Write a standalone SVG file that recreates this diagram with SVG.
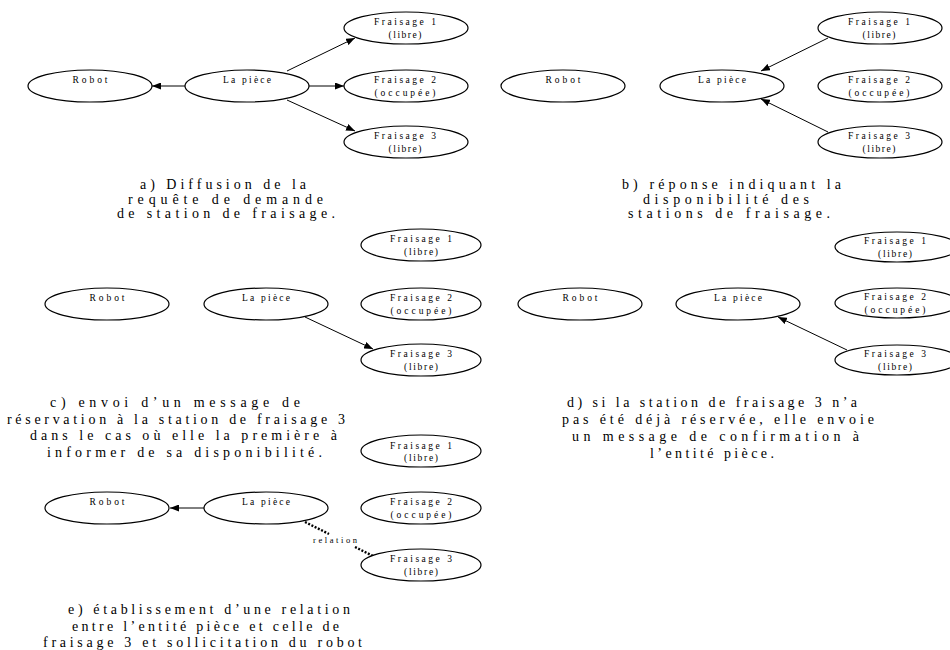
<svg xmlns="http://www.w3.org/2000/svg" width="950" height="650" viewBox="0 0 950 650">
<style>
  .n ellipse { fill: #fff; stroke: #000; stroke-width: 1.2; }
  .n text { font-family: "Liberation Serif", "Times New Roman", serif; font-size: 9.5px; fill: #000; text-anchor: middle; }
  .cap { font-family: "Liberation Serif", "Times New Roman", serif; font-size: 14px; fill: #000; }
  .e { stroke: #000; stroke-width: 1; fill: none; marker-end: url(#arr); }
  .rel { stroke: #000; stroke-width: 2.4; stroke-dasharray: 2 1.6; fill: none; }
  .lbl { font-family: "Liberation Serif", "Times New Roman", serif; font-size: 8.5px; fill: #000; }
</style>
<defs>
  <marker id="arr" markerUnits="userSpaceOnUse" markerWidth="9" markerHeight="7" refX="9" refY="3.5" orient="auto">
    <path d="M0,0 L9,3.5 L0,7 z" fill="#000"/>
  </marker>
</defs>
<rect width="950" height="650" fill="#fff"/>

<g id="connectors">
  <!-- a -->
  <path class="e" d="M185,86 L152,86"/>
  <path class="e" d="M287,71 L355,38"/>
  <path class="e" d="M309,86 L344,86"/>
  <path class="e" d="M287,100 L355,131"/>
  <!-- b -->
  <path class="e" d="M828,38 L761,71"/>
  <path class="e" d="M828,132 L761,99"/>
  <!-- c -->
  <path class="e" d="M305,317 L373,349"/>
  <!-- d -->
  <path class="e" d="M847,350 L778,317"/>
  <!-- e -->
  <path class="e" d="M204,508 L170,508"/>
  <path class="rel" d="M305,522 L329,534"/>
  <path class="rel" d="M355,547 L373,556"/>
  <text class="lbl" x="313" y="543" textLength="44" lengthAdjust="spacing">relation</text>
</g>

<!-- Panel a -->
<g id="a-robot" class="n"><ellipse cx="90" cy="86" rx="62" ry="16"/><text x="90" y="83" textLength="35" lengthAdjust="spacing">Robot</text></g>
<g id="a-piece" class="n"><ellipse cx="247" cy="86" rx="62" ry="16"/><text x="247" y="83" textLength="48" lengthAdjust="spacing">La pièce</text></g>
<g id="a-f1" class="n"><ellipse cx="406" cy="28" rx="62" ry="16"/><text x="405" y="25" textLength="62" lengthAdjust="spacing">Fraisage 1</text><text x="405" y="38" textLength="33" lengthAdjust="spacing">(libre)</text></g>
<g id="a-f2" class="n"><ellipse cx="406" cy="86" rx="62" ry="16"/><text x="405" y="83" textLength="62" lengthAdjust="spacing">Fraisage 2</text><text x="405" y="96" textLength="61" lengthAdjust="spacing">(occupée)</text></g>
<g id="a-f3" class="n"><ellipse cx="406" cy="142" rx="62" ry="16"/><text x="405" y="139" textLength="62" lengthAdjust="spacing">Fraisage 3</text><text x="405" y="152" textLength="33" lengthAdjust="spacing">(libre)</text></g>
<text class="cap" x="140" y="189" textLength="166" lengthAdjust="spacing">a) Diffusion de la</text>
<text class="cap" x="128" y="203.5" textLength="195" lengthAdjust="spacing">requête de demande</text>
<text class="cap" x="117" y="218" textLength="218" lengthAdjust="spacing">de station de fraisage.</text>

<!-- Panel b -->
<g id="b-robot" class="n"><ellipse cx="563" cy="86" rx="62" ry="16"/><text x="563" y="83" textLength="35" lengthAdjust="spacing">Robot</text></g>
<g id="b-piece" class="n"><ellipse cx="722" cy="86" rx="62" ry="16"/><text x="722" y="83" textLength="48" lengthAdjust="spacing">La pièce</text></g>
<g id="b-f1" class="n"><ellipse cx="880" cy="28" rx="62" ry="16"/><text x="879" y="25" textLength="62" lengthAdjust="spacing">Fraisage 1</text><text x="879" y="38" textLength="33" lengthAdjust="spacing">(libre)</text></g>
<g id="b-f2" class="n"><ellipse cx="880" cy="86" rx="62" ry="16"/><text x="879" y="83" textLength="62" lengthAdjust="spacing">Fraisage 2</text><text x="879" y="96" textLength="61" lengthAdjust="spacing">(occupée)</text></g>
<g id="b-f3" class="n"><ellipse cx="880" cy="142" rx="62" ry="16"/><text x="879" y="139" textLength="62" lengthAdjust="spacing">Fraisage 3</text><text x="879" y="152" textLength="33" lengthAdjust="spacing">(libre)</text></g>
<text class="cap" x="622" y="189" textLength="219" lengthAdjust="spacing">b) réponse indiquant la</text>
<text class="cap" x="643" y="203.5" textLength="166" lengthAdjust="spacing">disponibilité des</text>
<text class="cap" x="628" y="218" textLength="202" lengthAdjust="spacing">stations de fraisage.</text>

<!-- Panel c -->
<g id="c-robot" class="n"><ellipse cx="107" cy="304" rx="62" ry="16"/><text x="107" y="301" textLength="35" lengthAdjust="spacing">Robot</text></g>
<g id="c-piece" class="n"><ellipse cx="266" cy="304" rx="62" ry="16"/><text x="266" y="301" textLength="48" lengthAdjust="spacing">La pièce</text></g>
<g id="c-f1" class="n"><ellipse cx="421" cy="245" rx="60" ry="16"/><text x="421" y="242" textLength="62" lengthAdjust="spacing">Fraisage 1</text><text x="421" y="255" textLength="34" lengthAdjust="spacing">(libre)</text></g>
<g id="c-f2" class="n"><ellipse cx="421" cy="304" rx="60" ry="16"/><text x="421" y="301" textLength="62" lengthAdjust="spacing">Fraisage 2</text><text x="421" y="314" textLength="61" lengthAdjust="spacing">(occupée)</text></g>
<g id="c-f3" class="n"><ellipse cx="421" cy="360" rx="60" ry="16"/><text x="421" y="357" textLength="62" lengthAdjust="spacing">Fraisage 3</text><text x="421" y="370" textLength="34" lengthAdjust="spacing">(libre)</text></g>
<text class="cap" x="50" y="407" textLength="250" lengthAdjust="spacing">c) envoi d’un message de</text>
<text class="cap" x="7" y="423.5" textLength="338" lengthAdjust="spacing">réservation à la station de fraisage 3</text>
<text class="cap" x="30" y="440" textLength="307" lengthAdjust="spacing">dans le cas où elle la première à</text>
<text class="cap" x="47" y="456.5" textLength="275" lengthAdjust="spacing">informer de sa disponibilité.</text>

<!-- Panel d -->
<g id="d-robot" class="n"><ellipse cx="580" cy="304" rx="62" ry="16"/><text x="580" y="301" textLength="35" lengthAdjust="spacing">Robot</text></g>
<g id="d-piece" class="n"><ellipse cx="738" cy="304" rx="62" ry="16"/><text x="738" y="301" textLength="48" lengthAdjust="spacing">La pièce</text></g>
<g id="d-f1" class="n"><ellipse cx="897" cy="247" rx="62" ry="15"/><text x="895" y="244" textLength="62" lengthAdjust="spacing">Fraisage 1</text><text x="895" y="257" textLength="34" lengthAdjust="spacing">(libre)</text></g>
<g id="d-f2" class="n"><ellipse cx="897" cy="303" rx="62" ry="15"/><text x="895" y="300" textLength="62" lengthAdjust="spacing">Fraisage 2</text><text x="895" y="313" textLength="61" lengthAdjust="spacing">(occupée)</text></g>
<g id="d-f3" class="n"><ellipse cx="897" cy="360" rx="62" ry="15"/><text x="895" y="357" textLength="62" lengthAdjust="spacing">Fraisage 3</text><text x="895" y="370" textLength="34" lengthAdjust="spacing">(libre)</text></g>
<text class="cap" x="567" y="407" textLength="290" lengthAdjust="spacing">d) si la station de fraisage 3 n’a</text>
<text class="cap" x="562" y="424" textLength="312" lengthAdjust="spacing">pas été déjà réservée, elle envoie</text>
<text class="cap" x="572" y="441" textLength="287" lengthAdjust="spacing">un message de confirmation à</text>
<text class="cap" x="650" y="458" textLength="124" lengthAdjust="spacing">l’entité pièce.</text>

<!-- Panel e -->
<g id="e-robot" class="n"><ellipse cx="107" cy="508" rx="62" ry="16"/><text x="107" y="505" textLength="35" lengthAdjust="spacing">Robot</text></g>
<g id="e-piece" class="n"><ellipse cx="266" cy="508" rx="62" ry="16"/><text x="266" y="505" textLength="48" lengthAdjust="spacing">La pièce</text></g>
<g id="e-f1" class="n"><ellipse cx="421" cy="451" rx="60" ry="16"/><text x="421" y="449" textLength="62" lengthAdjust="spacing">Fraisage 1</text><text x="421" y="461" textLength="34" lengthAdjust="spacing">(libre)</text></g>
<g id="e-f2" class="n"><ellipse cx="421" cy="508" rx="60" ry="16"/><text x="421" y="505" textLength="62" lengthAdjust="spacing">Fraisage 2</text><text x="421" y="518" textLength="61" lengthAdjust="spacing">(occupée)</text></g>
<g id="e-f3" class="n"><ellipse cx="421" cy="565" rx="60" ry="16"/><text x="421" y="562" textLength="62" lengthAdjust="spacing">Fraisage 3</text><text x="421" y="575" textLength="34" lengthAdjust="spacing">(libre)</text></g>
<text class="cap" x="68" y="614" textLength="282" lengthAdjust="spacing">e) établissement d’une relation</text>
<text class="cap" x="72" y="631" textLength="267" lengthAdjust="spacing">entre l’entité pièce et celle de</text>
<text class="cap" x="43" y="647" textLength="319" lengthAdjust="spacing">fraisage 3 et sollicitation du robot</text>
</svg>
